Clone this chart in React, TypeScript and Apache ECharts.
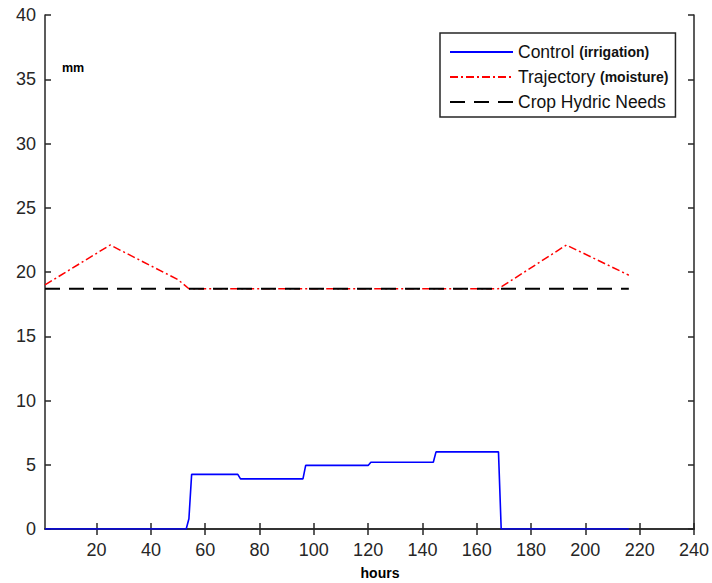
import React, { useEffect, useRef } from "react";
import * as echarts from "echarts";

// Data
const controlHours = [1, 53, 54, 55, 72, 73, 96, 97, 120, 121, 144, 145, 168, 169, 216];
const controlValues = [0, 0, 0.8, 4.25, 4.25, 3.9, 3.9, 4.95, 4.95, 5.2, 5.2, 6.0, 6.0, 0, 0];

const trajectoryHours = [1, 25, 50, 54, 168, 193, 216];
const trajectoryValues = [19.0, 22.1, 19.4, 18.7, 18.7, 22.1, 19.75];

const needsHours = [1, 216];
const needsValues = [18.7, 18.7];

const xTicks = [20, 40, 60, 80, 100, 120, 140, 160, 180, 200, 220, 240];

const seriesNames = ["Control", "Trajectory", "Crop Hydric Needs"];
const legendSuffix: Record<string, string> = {
  Control: "(irrigation)",
  Trajectory: "(moisture)",
  "Crop Hydric Needs": "",
};

const FONT = "Liberation Sans, Arial, Helvetica, sans-serif";
const AXIS_COLOR = "#262626";

function pairs(xs: number[], ys: number[]) {
  return xs.map((x, i) => [x, ys[i]]);
}

export default function App() {
  const ref = useRef<HTMLDivElement>(null);

  useEffect(() => {
    if (!ref.current) return;
    const chart = echarts.init(ref.current, undefined, { renderer: "svg" });

    const axisLine = { show: true, lineStyle: { color: AXIS_COLOR, width: 1.5 } };

    chart.setOption({
      animation: false,
      backgroundColor: "#ffffff",
      grid: { left: 45, right: 17, top: 15, bottom: 54, containLabel: false },
      textStyle: { fontFamily: FONT },
      xAxis: [
        {
          type: "value",
          min: 1,
          max: 240,
          position: "bottom",
          axisLine,
          splitLine: { show: false },
          axisTick: {
            show: true,
            inside: true,
            length: 6,
            customValues: xTicks,
            lineStyle: { color: AXIS_COLOR, width: 1.5 },
          },
          axisLabel: {
            show: true,
            customValues: xTicks,
            color: AXIS_COLOR,
            fontSize: 18,
            fontFamily: FONT,
            margin: 12,
          },
        },
        {
          type: "value",
          min: 1,
          max: 240,
          position: "top",
          axisLine,
          splitLine: { show: false },
          axisTick: {
            show: true,
            inside: true,
            length: 6,
            customValues: xTicks,
            lineStyle: { color: AXIS_COLOR, width: 1.5 },
          },
          axisLabel: { show: false },
        },
      ],
      yAxis: [
        {
          type: "value",
          min: 0,
          max: 40,
          interval: 5,
          position: "left",
          axisLine,
          splitLine: { show: false },
          axisTick: {
            show: true,
            inside: true,
            length: 6,
            lineStyle: { color: AXIS_COLOR, width: 1.5 },
          },
          axisLabel: {
            color: AXIS_COLOR,
            fontSize: 18,
            fontFamily: FONT,
            margin: 9,
          },
        },
        {
          type: "value",
          min: 0,
          max: 40,
          interval: 5,
          position: "right",
          axisLine,
          splitLine: { show: false },
          axisTick: {
            show: true,
            inside: true,
            length: 6,
            lineStyle: { color: AXIS_COLOR, width: 1.5 },
          },
          axisLabel: { show: false },
        },
      ],
      legend: {
        orient: "vertical",
        left: 440,
        top: 33,
        data: seriesNames,
        backgroundColor: "#ffffff",
        borderColor: AXIS_COLOR,
        borderWidth: 1.5,
        borderRadius: 0,
        padding: [9, 7, 5, 9],
        itemWidth: 63,
        itemHeight: 14,
        itemGap: 5,
        selectedMode: false,
        itemStyle: { opacity: 0 },
        formatter: (name: string) =>
          legendSuffix[name] ? `${name} {b|${legendSuffix[name]}}` : name,
        textStyle: {
          color: "#111111",
          fontSize: 17.5,
          fontFamily: FONT,
          lineHeight: 20,
          rich: {
            b: {
              fontSize: 14,
              fontWeight: "bold",
              fontFamily: FONT,
              color: "#111111",
              lineHeight: 20,
            },
          },
        },
      },
      graphic: [
        {
          type: "text",
          left: 62,
          top: 61,
          style: {
            text: "mm",
            font: `bold 12.5px ${FONT}`,
            fill: "#000000",
          },
        },
        {
          type: "text",
          x: 380,
          y: 573,
          style: {
            text: "hours",
            font: `bold 14px ${FONT}`,
            fill: "#000000",
            align: "center",
            verticalAlign: "middle",
          },
        },
      ],
      series: [
        {
          name: "Control",
          type: "line",
          data: pairs(controlHours, controlValues),
          showSymbol: false,
          symbol: "none",
          z: 3,
          lineStyle: { color: "#0000ff", width: 1.6, type: "solid" },
          itemStyle: { color: "#0000ff" },
        },
        {
          name: "Trajectory",
          type: "line",
          data: pairs(trajectoryHours, trajectoryValues),
          showSymbol: false,
          symbol: "none",
          z: 2,
          lineStyle: { color: "#ff0000", width: 1.5, type: [8, 3, 2, 3] },
          itemStyle: { color: "#ff0000" },
        },
        {
          name: "Crop Hydric Needs",
          type: "line",
          data: pairs(needsHours, needsValues),
          showSymbol: false,
          symbol: "none",
          z: 4,
          lineStyle: { color: "#000000", width: 2, type: [15, 9] },
          itemStyle: { color: "#000000" },
        },
      ],
    });

    return () => chart.dispose();
  }, []);

  return (
    <div
      ref={ref}
      style={{ position: "fixed", left: 0, top: 0, width: 712, height: 583 }}
    />
  );
}
